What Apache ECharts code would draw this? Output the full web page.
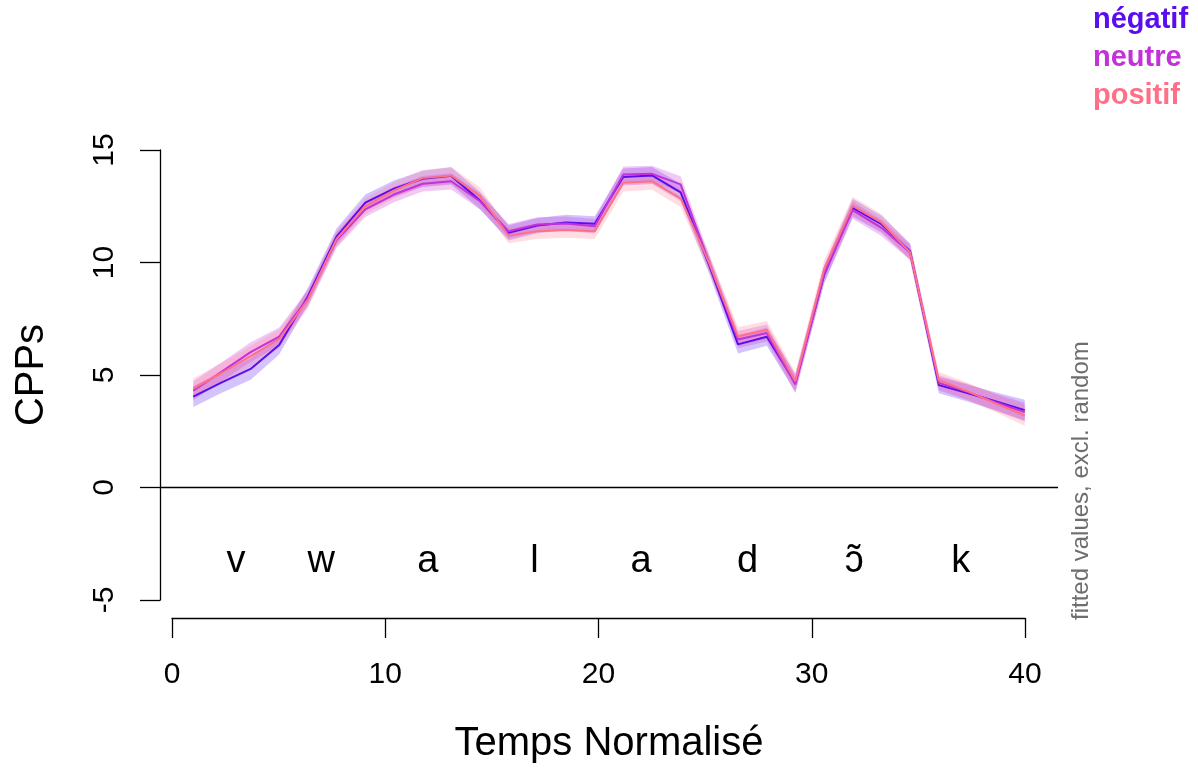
<!DOCTYPE html>
<html>
<head>
<meta charset="utf-8">
<script src="https://cdn.jsdelivr.net/npm/echarts@6/dist/echarts.min.js"></script>
<style>
html,body{margin:0;padding:0;background:#fff;}
#c{width:1198px;height:772px;}
</style>
</head>
<body>
<div id="c"></div>
<script>
// ---- data ----
const timeX = [1, 2.34, 3.69, 5.03, 6.38, 7.72, 9.07, 10.41, 11.76, 13.10, 14.45, 15.79, 17.14, 18.48, 19.83, 21.17, 22.52, 23.86, 25.21, 26.55, 27.90, 29.24, 30.59, 31.93, 33.28, 34.62, 35.97, 37.31, 38.66, 40];
const fitNegatif = [4.04, 4.67, 5.27, 6.33, 8.50, 11.15, 12.66, 13.28, 13.72, 13.85, 12.75, 11.32, 11.64, 11.78, 11.72, 13.80, 13.87, 13.12, 9.85, 6.36, 6.70, 4.65, 9.45, 12.43, 11.70, 10.50, 4.55, 4.20, 3.82, 3.44];
const fitNeutre  = [4.30, 5.15, 6.02, 6.71, 8.42, 11.00, 12.36, 13.02, 13.50, 13.61, 12.72, 11.39, 11.69, 11.73, 11.61, 13.91, 13.94, 13.47, 9.95, 6.58, 6.87, 4.58, 9.50, 12.33, 11.54, 10.45, 4.65, 4.25, 3.78, 3.35];
const fitPositif = [4.40, 5.10, 5.84, 6.60, 8.35, 11.05, 12.50, 13.20, 13.75, 13.87, 12.95, 11.20, 11.39, 11.44, 11.39, 13.54, 13.61, 12.85, 9.95, 6.72, 7.00, 4.72, 9.70, 12.52, 11.78, 10.45, 4.77, 4.28, 3.73, 3.20];
const ciNegatif = [0.46, 0.46, 0.48, 0.42, 0.38, 0.36, 0.36, 0.36, 0.36, 0.38, 0.38, 0.34, 0.34, 0.34, 0.34, 0.38, 0.38, 0.38, 0.38, 0.40, 0.40, 0.40, 0.40, 0.40, 0.38, 0.36, 0.36, 0.38, 0.40, 0.46];
const ciNeutre  = [0.42, 0.42, 0.44, 0.40, 0.36, 0.34, 0.34, 0.34, 0.34, 0.36, 0.36, 0.32, 0.32, 0.32, 0.32, 0.36, 0.36, 0.36, 0.36, 0.38, 0.38, 0.38, 0.38, 0.38, 0.36, 0.34, 0.34, 0.36, 0.38, 0.42];
const ciPositif = [0.44, 0.44, 0.46, 0.42, 0.38, 0.36, 0.36, 0.36, 0.36, 0.38, 0.38, 0.34, 0.34, 0.34, 0.34, 0.38, 0.38, 0.38, 0.38, 0.40, 0.40, 0.40, 0.40, 0.40, 0.38, 0.36, 0.36, 0.38, 0.40, 0.46];
const groupNames = ['négatif', 'neutre', 'positif'];
const phonemes = ['v', 'w', 'a', 'l', 'a', 'd', 'ɔ̃', 'k'];
const phonemeX = [3, 7, 12, 17, 22, 27, 32, 37];
const phonemeY = [-3.3, -3.3, -3.3, -3.3, -3.3, -3.3, -3.3, -3.3];
const xTicks = [0, 10, 20, 30, 40];
const yTicks = [-5, 0, 5, 10, 15];

// ---- styling ----
const FONT = '"Liberation Sans", Arial, Helvetica, sans-serif';
const lineColors = ['#5A0EEE', '#C232D8', '#FF6F87'];
const bandColors = ['rgba(100,40,245,0.28)', 'rgba(200,60,215,0.28)', 'rgba(255,120,145,0.25)'];
const fits = [fitNegatif, fitNeutre, fitPositif];
const cis = [ciNegatif, ciNeutre, ciPositif];

const series = [];
// confidence bands: one polygon per group, points mapped through the axes
fits.forEach((fit, g) => {
  const bandData = fit.map((v, i) => [timeX[i], v - cis[g][i], v + cis[g][i]]);
  series.push({
    type: 'custom', xAxisIndex: 0, yAxisIndex: 0, silent: true, z: 1,
    data: bandData,
    encode: { x: 0, y: [1, 2] },
    renderItem: function (params, api) {
      if (params.dataIndex !== 0) return null;
      const up = bandData.map(d => api.coord([d[0], d[2]]));
      const lo = bandData.map(d => api.coord([d[0], d[1]])).reverse();
      return { type: 'polygon', shape: { points: up.concat(lo) },
               style: { fill: bandColors[g], stroke: null } };
    }
  });
});
// fitted lines
fits.forEach((fit, g) => {
  series.push({
    name: groupNames[g], type: 'line', xAxisIndex: 0, yAxisIndex: 0,
    data: fit.map((v, i) => [timeX[i], v]), showSymbol: false,
    lineStyle: { color: lineColors[g], width: 2 }, z: 3 + g
  });
});
// phoneme labels (text marks placed through the axes)
series.push({
  type: 'custom', xAxisIndex: 0, yAxisIndex: 0, silent: true, z: 2,
  data: phonemeX.map((x, i) => [x, phonemeY[i]]),
  renderItem: function (params, api) {
    const p = api.coord([api.value(0), api.value(1)]);
    return { type: 'text', x: p[0], y: p[1],
             style: { text: phonemes[params.dataIndex], fill: '#000000',
                      font: '38px ' + FONT, textAlign: 'center', textVerticalAlign: 'middle' } };
  },
  markLine: { symbol: ['none', 'none'], silent: true, label: { show: false },
              lineStyle: { color: '#000', width: 1.3, type: 'solid' },
              data: [{ yAxis: 0 }] }
});

const chart = echarts.init(document.getElementById('c'), null, { renderer: 'canvas' });
chart.setOption({
  animation: false,
  backgroundColor: '#ffffff',
  grid: [
    { left: 160, top: 132, width: 898, height: 486 },   // plot region
    { left: 160, top: 150, width: 10, height: 450 },    // y axis display
    { left: 172, top: 500, width: 853, height: 118 }    // x axis display
  ],
  xAxis: [
    { gridIndex: 0, type: 'value', min: -0.56, max: 41.56,
      axisLine: { show: false }, axisTick: { show: false }, axisLabel: { show: false }, splitLine: { show: false },
      name: 'Temps Normalisé', nameLocation: 'middle', nameGap: 106,
      nameTextStyle: { fontFamily: FONT, fontSize: 40, color: '#000' } },
    { gridIndex: 1, type: 'value', min: 0, max: 1, show: false },
    { gridIndex: 2, type: 'value', min: xTicks[0], max: xTicks[xTicks.length - 1], interval: 10, position: 'bottom',
      axisLine: { show: true, lineStyle: { color: '#000', width: 1.3 } },
      axisTick: { show: true, length: 20, lineStyle: { color: '#000', width: 1.3 } },
      axisLabel: { fontFamily: FONT, fontSize: 30, color: '#000', margin: 42 },
      splitLine: { show: false } }
  ],
  yAxis: [
    { gridIndex: 0, type: 'value', min: -5.8, max: 15.8,
      axisLine: { show: false }, axisTick: { show: false }, axisLabel: { show: false }, splitLine: { show: false },
      name: 'CPPs', nameLocation: 'middle', nameGap: 108,
      nameTextStyle: { fontFamily: FONT, fontSize: 40, color: '#000' } },
    { gridIndex: 1, type: 'value', min: yTicks[0], max: yTicks[yTicks.length - 1], interval: 5, position: 'left',
      axisLine: { show: true, lineStyle: { color: '#000', width: 1.3 } },
      axisTick: { show: true, length: 20, lineStyle: { color: '#000', width: 1.3 } },
      axisLabel: { fontFamily: FONT, fontSize: 30, color: '#000', rotate: 90, margin: 40 },
      splitLine: { show: false } },
    { gridIndex: 2, type: 'value', min: 0, max: 1, show: false }
  ],
  series: series,
  graphic: [
    { type: 'text', left: 1093, top: 5, style: { text: groupNames[0], fill: lineColors[0], font: 'bold 29px ' + FONT } },
    { type: 'text', left: 1093, top: 43, style: { text: groupNames[1], fill: lineColors[1], font: 'bold 29px ' + FONT } },
    { type: 'text', left: 1093, top: 81, style: { text: groupNames[2], fill: lineColors[2], font: 'bold 29px ' + FONT } },
    { type: 'text', x: 1081, y: 620, rotation: Math.PI / 2,
      style: { text: 'fitted values, excl. random', fill: '#6e6e6e', font: '24px ' + FONT,
               textAlign: 'left', textVerticalAlign: 'middle' } }
  ]
});
</script>
</body>
</html>
